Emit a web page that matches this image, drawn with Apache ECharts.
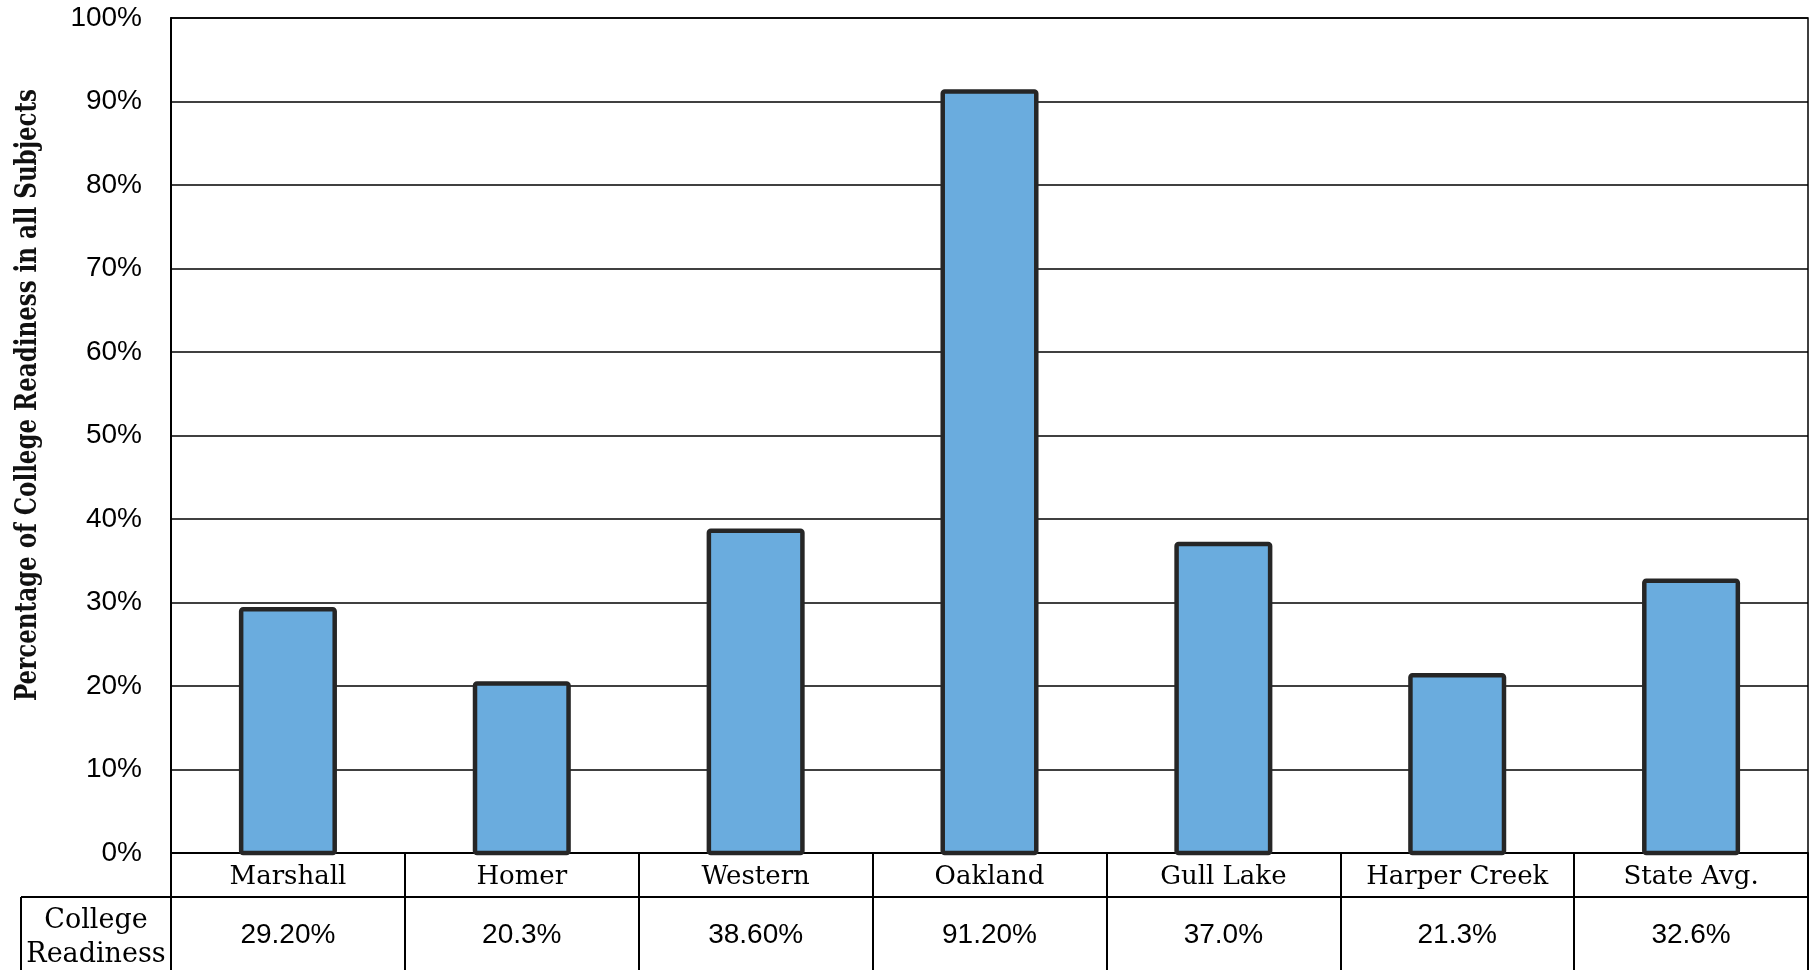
<!DOCTYPE html>
<html><head><meta charset="utf-8">
<script src="https://cdn.jsdelivr.net/npm/echarts@6/dist/echarts.min.js"></script>
<style>html,body{margin:0;padding:0;background:#fff}#c{width:1810px;height:970px}</style>
</head><body><div id="c"></div>
<script>
const categories = ['Marshall','Homer','Western','Oakland','Gull Lake','Harper Creek','State Avg.'];
const readiness = [29.2, 20.3, 38.6, 91.2, 37.0, 21.3, 32.6];
const tableLabels = ['29.20%','20.3%','38.60%','91.20%','37.0%','21.3%','32.6%'];
const yTicks = {min: 0, max: 100, interval: 10};
const rowName = 'College\nReadiness';
const yTitle = 'Percentage of College Readiness in all Subjects';

const chart = echarts.init(document.getElementById('c'), null, {renderer: 'canvas'});
const serif = '"DejaVu Serif", serif';
const sans = '"Liberation Sans", Arial, sans-serif';
const barFrac = 0.40;
chart.setOption({
  animation: false,
  backgroundColor: '#fff',
  grid: {left: 171, top: 18, right: 2, bottom: 117, show: true, borderColor: '#000', borderWidth: 1.5, containLabel: false},
  xAxis: [{
    type: 'category', data: categories, position: 'bottom',
    axisLine: {show: true, lineStyle: {color: '#000', width: 2}},
    axisTick: {show: true, length: 44, interval: 0, lineStyle: {color: '#000', width: 2}},
    axisLabel: {interval: 0, margin: 11, color: '#000', fontFamily: serif, fontSize: 26}
  }, {
    type: 'category', data: tableLabels, position: 'bottom', offset: 44,
    axisLine: {show: true, lineStyle: {color: '#000', width: 2}},
    axisTick: {show: true, length: 80, interval: 0, lineStyle: {color: '#000', width: 2}},
    axisLabel: {interval: 0, margin: 24, color: '#000', fontFamily: sans, fontSize: 28}
  }],
  yAxis: {
    type: 'value', min: yTicks.min, max: yTicks.max, interval: yTicks.interval,
    axisLine: {show: true, lineStyle: {color: '#000', width: 2}},
    axisTick: {show: false},
    splitLine: {show: true, lineStyle: {color: '#000', width: 1.6}},
    axisLabel: {formatter: '{value}%', margin: 29, color: '#000', fontFamily: sans, fontSize: 28, padding: [10, 0, 0, 0]}
  },
  series: [{
    type: 'custom', xAxisIndex: 0, yAxisIndex: 0,
    data: readiness.map((v, i) => [i, v]),
    encode: {x: 0, y: 1},
    renderItem: function (params, api) {
      const top = api.coord([api.value(0), api.value(1)]);
      const base = api.coord([api.value(0), 0]);
      const w = api.size([1, 0])[0] * barFrac;
      return {
        type: 'rect',
        shape: {x: top[0] - w / 2, y: top[1], width: w, height: base[1] - top[1], r: 2},
        style: {fill: '#6aacde', stroke: '#262626', lineWidth: 4.5}
      };
    }
  }],
  graphic: [
    {type: 'line', shape: {x1: 21, y1: 897, x2: 171, y2: 897}, style: {stroke: '#000', lineWidth: 2}},
    {type: 'line', shape: {x1: 21, y1: 897, x2: 21, y2: 980}, style: {stroke: '#000', lineWidth: 2}},
    {type: 'text', x: 96, y: 938, style: {text: rowName, fill: '#000', font: '27px ' + serif, align: 'center', verticalAlign: 'middle', lineHeight: 34}},
    {type: 'text', x: 28, y: 395, rotation: Math.PI / 2, scaleX: 0.88,
      style: {text: yTitle, fill: '#111', font: 'bold 29px "DejaVu Serif Condensed", "DejaVu Serif", serif', align: 'center', verticalAlign: 'middle'}}
  ]
});
</script></body></html>
